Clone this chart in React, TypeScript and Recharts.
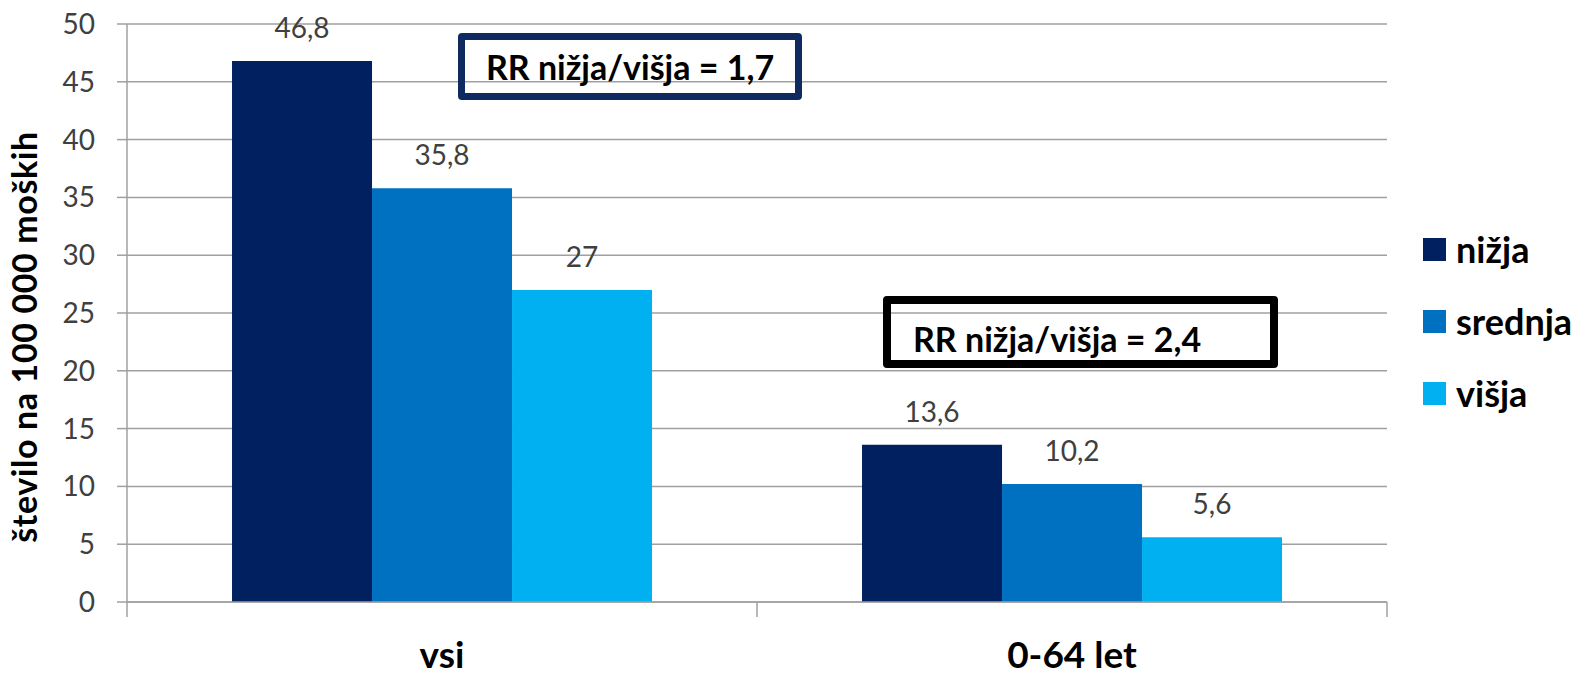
import React from 'react';
import { BarChart, Bar, XAxis, YAxis, CartesianGrid, LabelList } from 'recharts';

const categories = ['vsi', '0-64 let'];
const nizja = [46.8, 13.6];
const srednja = [35.8, 10.2];
const visja = [27, 5.6];
const yTicks = [0, 5, 10, 15, 20, 25, 30, 35, 40, 45, 50];
const seriesNames = ['nižja', 'srednja', 'višja'];
const seriesColors = ['#002060', '#0070C0', '#00B0F0'];
const yTitle = 'število na 100 000 moških';
const notes = ['RR nižja/višja = 1,7', 'RR nižja/višja = 2,4'];

const data = categories.map((name, i) => ({
  name,
  nizja: nizja[i],
  srednja: srednja[i],
  visja: visja[i],
}));
const keys = ['nizja', 'srednja', 'visja'];

const FONT = 'Lato, "Open Sans", sans-serif';
const GRID = '#a0a0a0';

const fmt = (v: any) => String(v).replace('.', ',');

// category label plus Excel-style tick marks on the category boundaries
function CategoryTick(props: any) {
  const { x, y, payload, index, visibleTicksCount } = props;
  const half = payload && typeof payload.offset === 'number' ? payload.offset : 0;
  return (
    <g>
      {half > 0 && <line x1={x - half} y1={y} x2={x - half} y2={y + 15} stroke={GRID} strokeWidth={1.5} />}
      {half > 0 && index === visibleTicksCount - 1 && (
        <line x1={x + half} y1={y} x2={x + half} y2={y + 15} stroke={GRID} strokeWidth={1.5} />
      )}
      <text x={x} y={y + 66} textAnchor="middle" fontFamily={FONT} fontWeight={700} fontSize={37} fill="#000">
        {payload.value}
      </text>
    </g>
  );
}

// legend kept outside the chart so it does not eat plot height
function LegendBox() {
  return (
    <div style={{ position: 'absolute', left: 1423, top: 231, fontFamily: FONT }}>
      {seriesNames.map((n, i) => (
        <div key={n} style={{ display: 'flex', alignItems: 'center', height: 36, marginBottom: 36 }}>
          <div style={{ width: 23, height: 23, background: seriesColors[i], marginRight: 10 }} />
          <span style={{ fontSize: 36, fontWeight: 700, color: '#000', lineHeight: '36px' }}>{n}</span>
        </div>
      ))}
    </div>
  );
}

export default function App() {
  return (
    <div style={{ position: 'absolute', left: 0, top: 0, width: 1589, height: 675, background: '#fff', overflow: 'hidden' }}>
      <BarChart
        width={1589}
        height={675}
        data={data}
        margin={{ top: 24, right: 202, bottom: 0, left: 0 }}
        barCategoryGap="16.67%"
        barGap={0}
      >
        <CartesianGrid vertical={false} stroke={GRID} strokeWidth={1.5} />
        <XAxis
          dataKey="name"
          axisLine={{ stroke: GRID, strokeWidth: 1.5 }}
          tickLine={false}
          tickSize={0}
          tickMargin={0}
          tick={<CategoryTick />}
          height={73}
          interval={0}
        />
        <YAxis
          domain={[0, 50]}
          ticks={yTicks}
          interval={0}
          width={127}
          axisLine={{ stroke: GRID, strokeWidth: 1.5 }}
          tickLine={{ stroke: GRID, strokeWidth: 1.5 }}
          tickSize={10}
          tickMargin={22}
          tick={{ fontFamily: FONT, fontSize: 28, fill: '#404040' }}
          label={{
            content: () => (
              <text
                x={37}
                y={337}
                transform="rotate(-90 37 337)"
                textAnchor="middle"
                fontFamily={FONT}
                fontWeight={700}
                fontSize={34}
                letterSpacing={0.6}
                fill="#000"
              >
                {yTitle}
              </text>
            ),
          }}
        />
        {keys.map((k, i) => (
          <Bar key={k} dataKey={k} name={seriesNames[i]} fill={seriesColors[i]} isAnimationActive={false}>
            <LabelList
              dataKey={k}
              position="top"
              offset={23}
              formatter={fmt}
              style={{ fontFamily: FONT, fontSize: 28, fill: '#404040' }}
            />
          </Bar>
        ))}
      </BarChart>
      <LegendBox />
      <div
        style={{
          position: 'absolute',
          left: 458,
          top: 33,
          width: 344,
          height: 67,
          boxSizing: 'border-box',
          border: '7px solid #0f2a5f',
          borderRadius: 4,
          display: 'flex',
          alignItems: 'center',
          justifyContent: 'center',
          fontFamily: FONT,
          fontWeight: 700,
          fontSize: 34,
          color: '#000',
        }}
      >
        {notes[0]}
      </div>
      <div
        style={{
          position: 'absolute',
          left: 883,
          top: 296,
          width: 395,
          height: 72,
          boxSizing: 'border-box',
          border: '8px solid #000',
          borderRadius: 4,
          display: 'flex',
          alignItems: 'center',
          paddingLeft: 22,
          paddingTop: 12,
          fontFamily: FONT,
          fontWeight: 700,
          fontSize: 34,
          color: '#000',
        }}
      >
        {notes[1]}
      </div>
    </div>
  );
}
